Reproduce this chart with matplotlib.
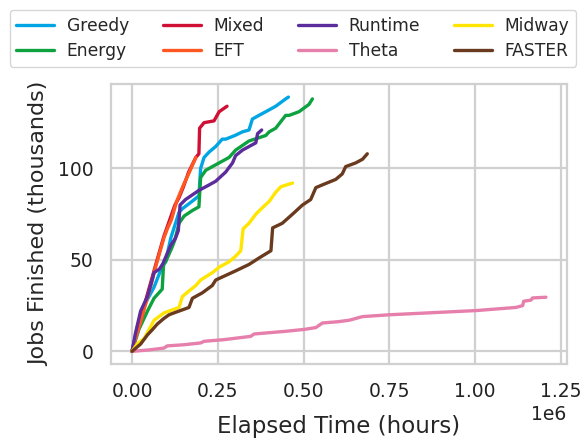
import matplotlib
matplotlib.use("Agg")
import matplotlib.pyplot as plt
import seaborn as sns
import numpy as np

sns.set_theme(style="whitegrid")
plt.rcParams['font.family'] = ['DejaVu Sans']

# x in thousands of units (plotted x1000), y in thousands of jobs
greedy_x = [0, 15, 35, 64, 85, 98, 113, 137, 147, 175, 195, 200, 210, 225, 244, 263, 273, 300, 322, 341, 351, 370, 390, 419, 448, 456]
greedy_y = [0, 12, 25, 35, 45, 49, 62, 76, 78, 82, 85, 100, 106, 109, 112, 116, 116, 118, 120, 121, 127, 129, 131, 134, 138, 139]

energy_x = [0, 20, 45, 64, 88, 92, 98, 117, 125, 137, 152, 176, 195, 200, 215, 244, 283, 302, 341, 390, 400, 419, 448, 458, 487, 516, 526]
energy_y = [0, 12, 22, 29, 34, 48, 49, 57, 61, 70, 74, 77, 79, 95, 99, 102, 106, 110, 115, 118, 120, 122, 129, 129, 131, 135, 138]

mixed_x = [0, 10, 25, 40, 55, 70, 93, 110, 125, 137, 150, 165, 186, 195, 197, 210, 239, 248, 254, 277]
mixed_y = [0, 8, 17, 28, 38, 48, 63, 72, 80, 84, 90, 98, 106, 108, 122, 125, 126, 129, 131, 134]

eft_x = [0, 10, 25, 40, 55, 70, 93, 103, 115, 130, 150, 165, 186]
eft_y = [0, 7, 16, 26, 36, 47, 62, 67, 72, 82, 91, 97, 106]

runtime_x = [0, 10, 25, 45, 60, 64, 80, 90, 113, 127, 135, 140, 156, 195, 225, 244, 273, 293, 302, 322, 361, 366, 378]
runtime_y = [0, 10, 22, 30, 40, 43, 45, 48, 58, 62, 66, 80, 83, 88, 91, 93, 98, 103, 107, 110, 114, 119, 121]

theta_x = [0, 50, 93, 103, 150, 200, 210, 268, 346, 356, 450, 502, 536, 555, 600, 633, 672, 750, 1003, 1119, 1139, 1142, 1163, 1168, 1207]
theta_y = [0, 0.8, 1.8, 3, 3.6, 4.6, 5.5, 6.4, 8.2, 9.5, 11, 12, 13, 15.5, 16.2, 17, 19, 20, 22.3, 24, 25, 27.4, 28, 29.2, 29.6]

midway_x = [0, 15, 35, 50, 64, 93, 122, 137, 147, 166, 186, 200, 234, 254, 283, 302, 317, 324, 341, 361, 380, 400, 419, 434, 468]
midway_y = [0, 4, 7, 12, 17, 21, 23, 24, 30, 33, 36, 39, 43, 46, 49, 52, 55, 67, 70, 75, 78.5, 82, 87, 90, 92]

faster_x = [0, 25, 45, 60, 74, 93, 108, 122, 166, 176, 205, 234, 244, 302, 341, 370, 405, 410, 438, 468, 497, 521, 536, 555, 594, 613, 623, 652, 672, 686]
faster_y = [0, 4, 9, 12, 15, 18, 20, 21, 24, 29, 32, 36, 39, 44, 47.5, 51, 55, 67.5, 70, 75, 80, 83, 89.5, 91, 94, 97, 101, 103, 105, 108]

x_ticks = [0.0, 0.25e6, 0.5e6, 0.75e6, 1.0e6, 1.25e6]
y_ticks = [0, 50, 100]

series = [
    ("Greedy", greedy_x, greedy_y, "#00A5E3"),
    ("Energy", energy_x, energy_y, "#0DA23F"),
    ("Mixed", mixed_x, mixed_y, "#CF1034"),
    ("EFT", eft_x, eft_y, "#FF5722"),
    ("Runtime", runtime_x, runtime_y, "#5B2C9C"),
    ("Theta", theta_x, theta_y, "#E67FAB"),
    ("Midway", midway_x, midway_y, "#FFE500"),
    ("FASTER", faster_x, faster_y, "#6A3A1F"),
]

fig, ax = plt.subplots(figsize=(5.86, 4.44), dpi=100)
handles = []
for name, xs, ys, c in series:
    h, = ax.plot(np.array(xs) * 1000, ys, color=c, lw=2.4, label=name)
    handles.append(h)

ax.set_xticks(x_ticks)
ax.set_yticks(y_ticks)
ax.grid(True, color="#d0d0d0", lw=1.6)
for s in ax.spines.values():
    s.set_color("#d0d0d0")
    s.set_linewidth(1.6)

ax.set_xlabel("Elapsed Time (hours)", fontsize=16.5, labelpad=10)
ax.set_ylabel("Jobs Finished (thousands)", fontsize=16, labelpad=6)
ax.tick_params(labelsize=13.5, colors="#222222", pad=7)
ax.xaxis.get_offset_text().set_fontsize(13.5)

fig.legend(handles=handles, loc="upper center", bbox_to_anchor=(0.5, 0.978),
           ncol=4, fontsize=12.3, frameon=True, handlelength=2.2,
           handletextpad=0.75, columnspacing=2.0, borderpad=0.4,
           labelspacing=0.42, borderaxespad=0.0)

fig.subplots_adjust(left=0.19, right=0.967, top=0.81, bottom=0.18)
fig.savefig("out.png", dpi=100)
